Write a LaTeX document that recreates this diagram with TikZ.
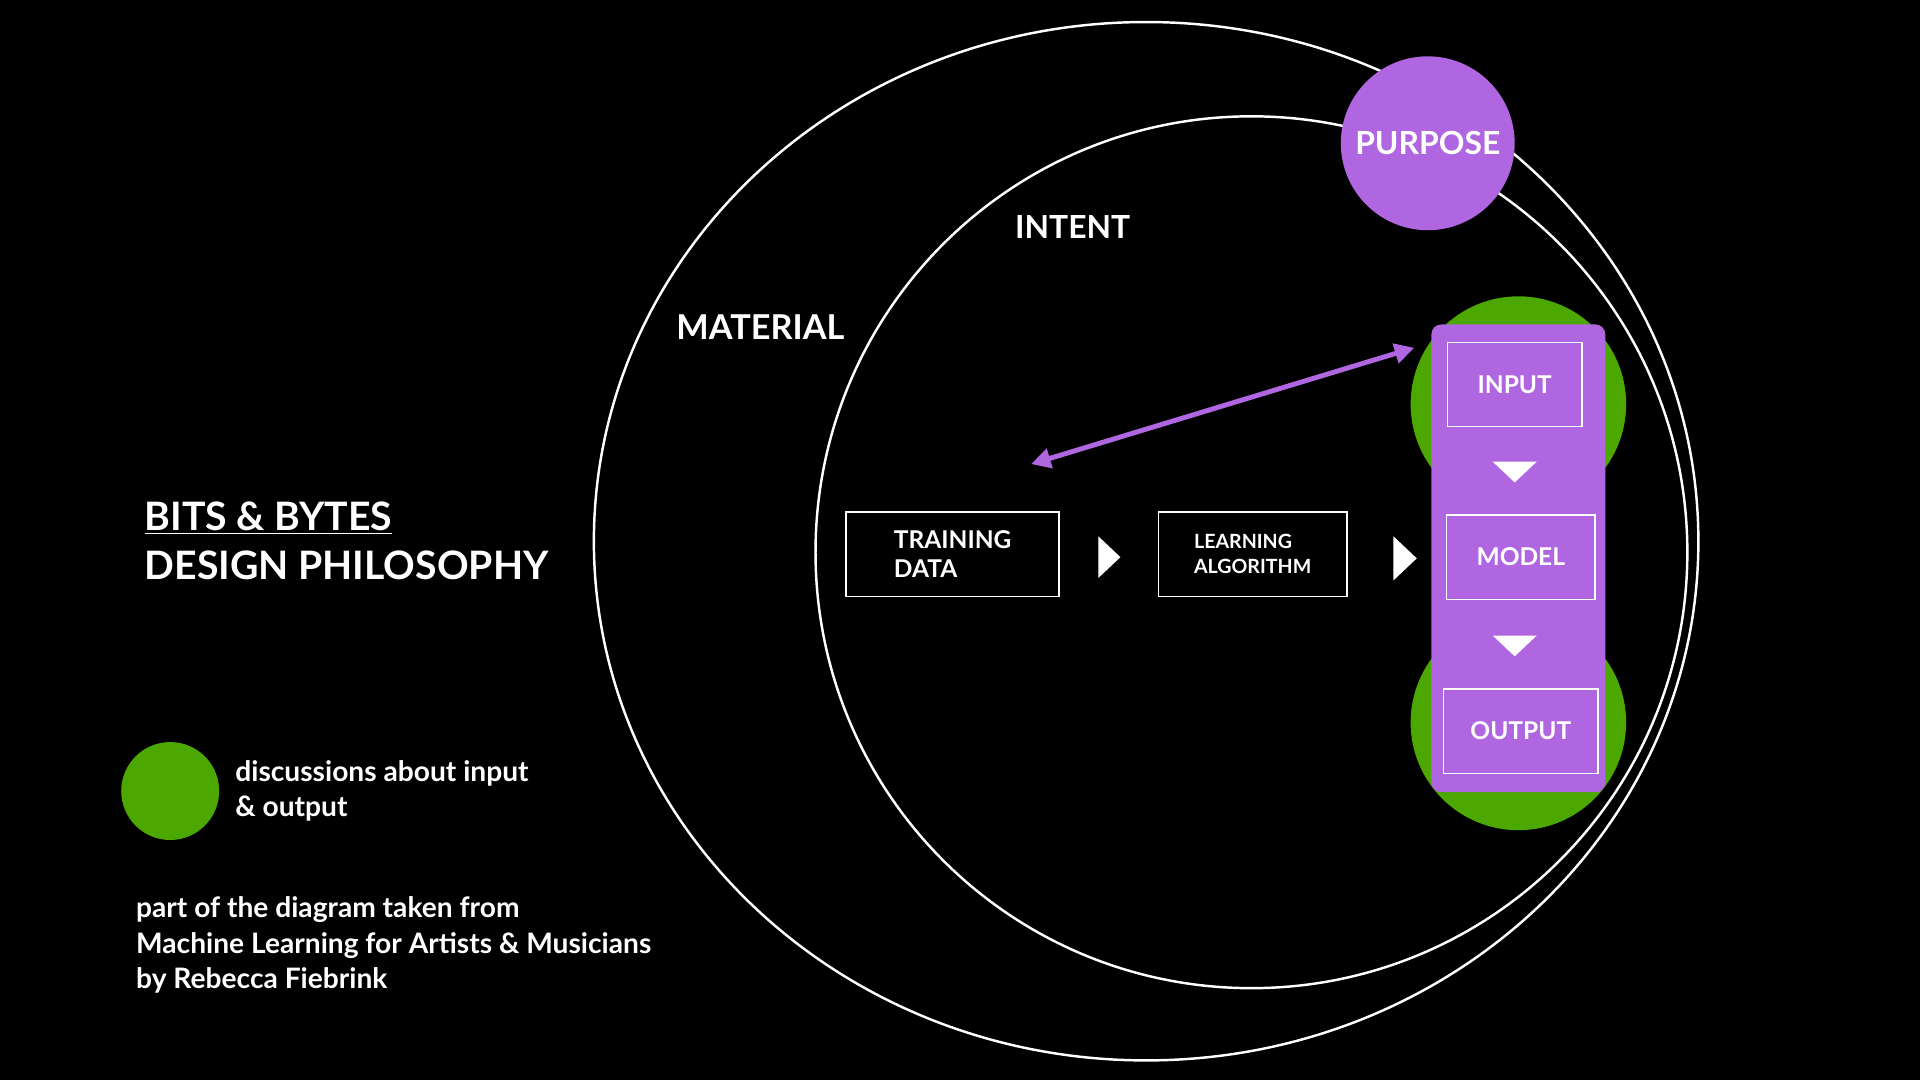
\documentclass[tikz,border=0pt]{standalone}
\usepackage{fontspec}
\setmainfont{Lato}
\usetikzlibrary{arrows.meta}
\definecolor{purp}{HTML}{B066E0}
\definecolor{grn}{HTML}{4CA800}
\begin{document}
\begin{tikzpicture}[x=1pt,y=-1pt,
  txt/.style={text=white,font=\bfseries},
  box/.style={draw=white,line width=1.2pt,minimum width=#1,minimum height=69pt,inner sep=0pt},
  tri/.style={fill=white,draw=none}]
\fill[black] (0,0) rectangle (1568,882);
\useasboundingbox (0,0) rectangle (1568,882);
% circles
\draw[white,line width=2pt] (936,442) ellipse [x radius=451,y radius=424];
\draw[white,line width=2pt] (1022,451) circle [radius=356];
\node[circle,fill=purp,minimum size=142pt,inner sep=0pt,txt,font=\bfseries\fontsize{26}{30}\selectfont] (purpose) at (1166,117) {PURPOSE};
\fill[grn] (1240,330) circle [radius=88];
\fill[grn] (1240,590) circle [radius=88];
\fill[purp,rounded corners=8pt] (1169,265) rectangle (1311,647);
\node[box=110pt,txt,font=\bfseries\fontsize{20}{24}\selectfont] (input) at (1237,314) {INPUT};
\node[box=121pt,txt,font=\bfseries\fontsize{20}{24}\selectfont] (model) at (1242,455) {MODEL};
\node[box=126pt,txt,font=\bfseries\fontsize{20}{24}\selectfont] (output) at (1242,597) {OUTPUT};
\fill[white] (1219,377) -- (1255,377) -- (1237,394) -- cycle;
\fill[white] (1219,519) -- (1255,519) -- (1237,536) -- cycle;
\node[box=174pt,txt,align=left,font=\bfseries\fontsize{20}{23}\selectfont] (train) at (778,452.5) {TRAINING\\DATA};
\node[box=154pt,txt,align=left,font=\bfseries\fontsize{16}{20}\selectfont] (learn) at (1023,452.5) {LEARNING\\ALGORITHM};
\fill[white] (897,438) -- (915,455) -- (897,472) -- cycle;
\fill[white] (1138,438) -- (1157,456) -- (1138,474) -- cycle;
\coordinate (a1) at (842,379);
\coordinate (a2) at (1155,284);
\draw[purp,line width=4pt,{Triangle[length=16pt,width=16pt]}-{Triangle[length=16pt,width=16pt]}] (a1) -- (a2);
% labels
\node[txt,font=\bfseries\fontsize{28}{32}\selectfont] (material) at (621,267) {MATERIAL};
\node[txt,font=\bfseries\fontsize{26}{30}\selectfont] (intent) at (876,185) {INTENT};
\node[txt,anchor=west,inner sep=0pt,font=\bfseries\fontsize{32}{36}\selectfont] (bb) at (118,423) {\underline{BITS \& BYTES}};
\node[txt,anchor=west,inner sep=0pt,font=\bfseries\fontsize{32}{36}\selectfont] (dp) at (118,462) {DESIGN PHILOSOPHY};
\fill[grn] (139,646) circle [radius=40];
\node[txt,anchor=west,align=left,inner sep=0pt,font=\bfseries\fontsize{23}{29}\selectfont] (legend) at (192,646) {discussions about input\\\& output};
\node[txt,anchor=north west,align=left,inner sep=0pt,font=\bfseries\fontsize{23}{29}\selectfont] (credit) at (111,732) {part of the diagram taken from\\Machine Learning for Artists \& Musicians\\by Rebecca Fiebrink};
\end{tikzpicture}
\end{document}
